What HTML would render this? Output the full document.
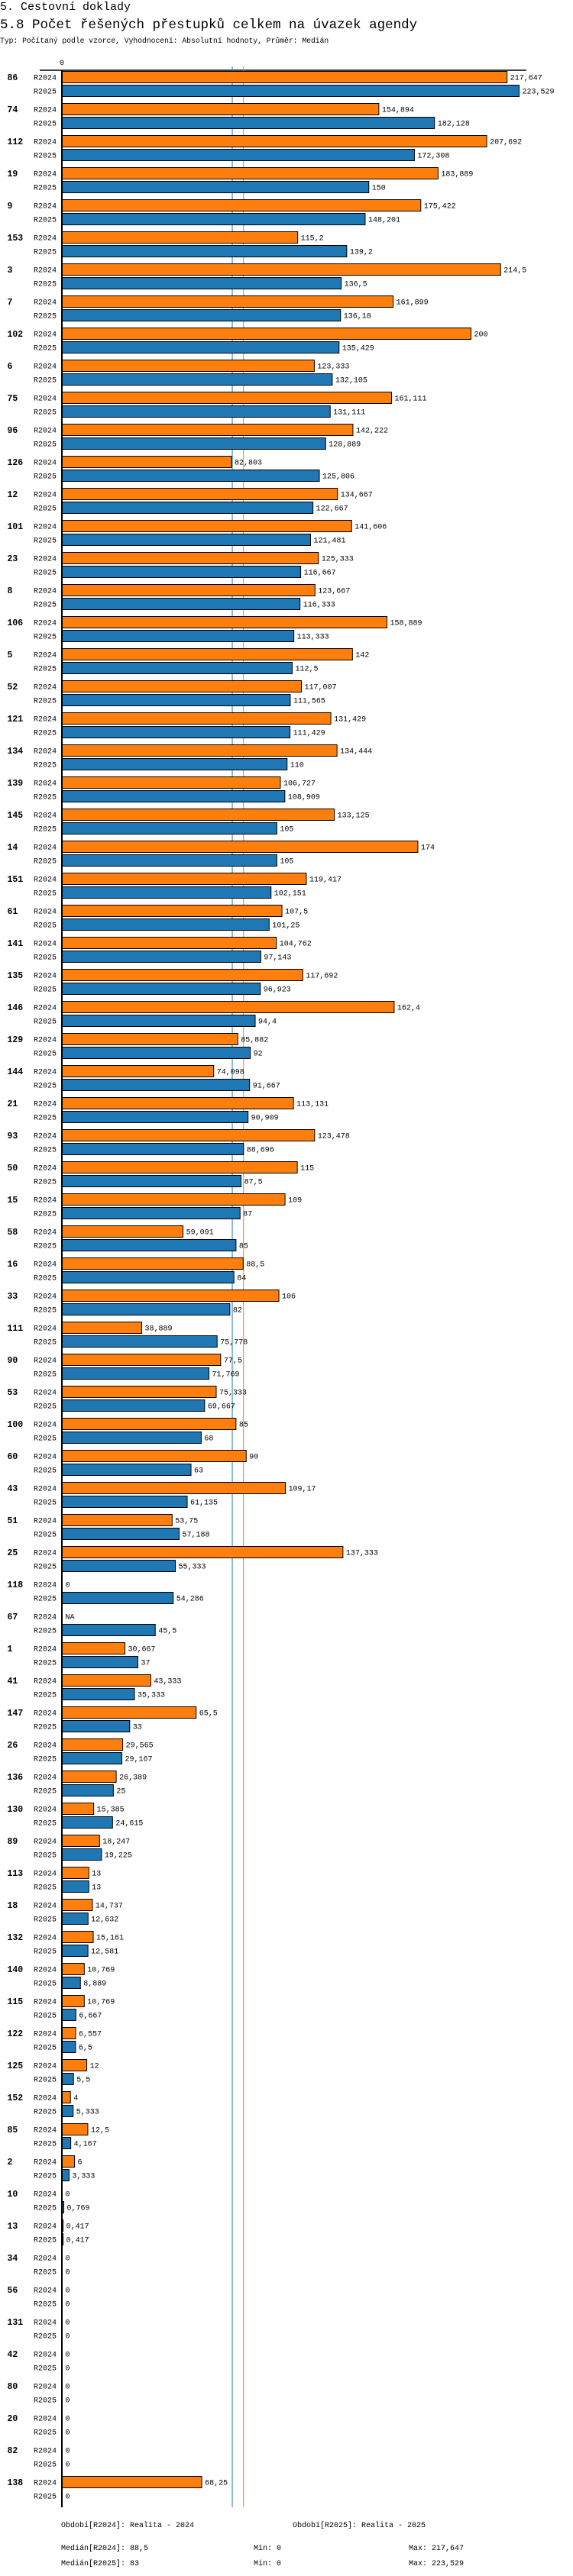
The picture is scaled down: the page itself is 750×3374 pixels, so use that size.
<!DOCTYPE html>
<html><head><meta charset="utf-8"><style>
html,body{margin:0;padding:0;background:#fff;}
svg{display:block;}
text{font-family:"Liberation Mono",monospace;fill:#000;}
</style></head><body>
<svg id="chart" width="750" height="3374" viewBox="0 0 750 3374" xmlns="http://www.w3.org/2000/svg">
<text x="0" y="13" font-size="15">5. Cestovní doklady</text>
<text x="0" y="37" font-size="17.5">5.8 Počet řešených přestupků celkem na úvazek agendy</text>
<text x="0" y="56" font-size="9.7">Typ: Počítaný podle vzorce, Vyhodnocení: Absolutní hodnoty, Průměr: Medián</text>
<text x="81" y="85" font-size="10" text-anchor="middle">0</text>
<line x1="52" y1="92" x2="689" y2="92" stroke="#000" stroke-width="1.5"/>
<g id="marks"></g>
<line x1="81" y1="92" x2="81" y2="3284" stroke="#000" stroke-width="2"/>
<g font-size="10">
<text x="80" y="3310">Období[R2024]: Realita - 2024</text>
<text x="383" y="3310">Období[R2025]: Realita - 2025</text>
<text x="80" y="3340">Medián[R2024]: 88,5</text>
<text x="332" y="3340">Min: 0</text>
<text x="535" y="3340">Max: 217,647</text>
<text x="80" y="3360">Medián[R2025]: 83</text>
<text x="332" y="3360">Min: 0</text>
<text x="535" y="3360">Max: 223,529</text>
</g>
</svg>
<script>
const categories = ["86","74","112","19","9","153","3","7","102","6","75","96","126","12","101","23","8","106","5","52","121","134","139","145","14","151","61","141","135","146","129","144","21","93","50","15","58","16","33","111","90","53","100","60","43","51","25","118","67","1","41","147","26","136","130","89","113","18","132","140","115","122","125","152","85","2","10","13","34","56","131","42","80","20","82","138"];
const values2024 = [217.647,154.894,207.692,183.889,175.422,115.2,214.5,161.899,200,123.333,161.111,142.222,82.803,134.667,141.606,125.333,123.667,158.889,142,117.007,131.429,134.444,106.727,133.125,174,119.417,107.5,104.762,117.692,162.4,85.882,74.098,113.131,123.478,115,109,59.091,88.5,106,38.889,77.5,75.333,85,90,109.17,53.75,137.333,0,null,30.667,43.333,65.5,29.565,26.389,15.385,18.247,13,14.737,15.161,10.769,10.769,6.557,12,4,12.5,6,0,0.417,0,0,0,0,0,0,0,68.25];
const values2025 = [223.529,182.128,172.308,150,148.201,139.2,136.5,136.18,135.429,132.105,131.111,128.889,125.806,122.667,121.481,116.667,116.333,113.333,112.5,111.565,111.429,110,108.909,105,105,102.151,101.25,97.143,96.923,94.4,92,91.667,90.909,88.696,87.5,87,85,84,82,75.778,71.769,69.667,68,63,61.135,57.188,55.333,54.286,45.5,37,35.333,33,29.167,25,24.615,19.225,13,12.632,12.581,8.889,6.667,6.5,5.5,5.333,4.167,3.333,0.769,0.417,0,0,0,0,0,0,0,0];
const seriesNames = ["R2024","R2025"];
const seriesColors = ["#ff7f0e","#1f77b4"];
const medians = [88.5, 83];

const NS = "http://www.w3.org/2000/svg";
const X0 = 82, SCALE = 2.675, TOP = 101, PITCH = 42, SUB = 18, BH = 15;
function xPos(v){ return X0 + v*SCALE; }
function yCenter(i, s){ return TOP + i*PITCH + s*SUB; }
function fmt(v){ return v === null ? "NA" : String(v).replace(".", ","); }
function mk(tag, attrs){ const e = document.createElementNS(NS, tag); for (const k in attrs) e.setAttribute(k, attrs[k]); return e; }
const g = document.getElementById("marks");
const svg = document.getElementById("chart");

// median lines
medians.forEach((m, s) => {
  const ln = mk("line", {x1: xPos(m), x2: xPos(m), y1: 87, y2: 3284, stroke: seriesColors[1 - s === 1 ? 0 : 1], "stroke-width": 1});
  ln.setAttribute("stroke", s === 0 ? seriesColors[0] : seriesColors[1]);
  
  
  g.appendChild(ln);
});

const series = [values2024, values2025];
categories.forEach((cat, i) => {
  const gl = mk("text", {x: 9.5, y: yCenter(i,0) + 4, "font-size": 11.5, "font-weight": "bold"});
  gl.textContent = cat;
  
  
  g.appendChild(gl);
  series.forEach((vals, s) => {
    const cy = yCenter(i, s);
    const sl = mk("text", {x: 74, y: cy + 3.5, "font-size": 10, "text-anchor": "end"});
    sl.textContent = seriesNames[s];
    
    
    g.appendChild(sl);
    const v = vals[i];
    let end = X0;
    if (v !== null && v > 0) {
      const w = xPos(v) - X0;
      const r = mk("rect", {x: X0 - 0.5, y: cy - BH/2, width: w, height: BH, fill: seriesColors[s], stroke: "#000", "stroke-width": 1});
      
      
      g.appendChild(r);
      end = X0 + w;
    }
    const vl = mk("text", {x: end + 3.5, y: cy + 3.5, "font-size": 10});
    vl.textContent = fmt(v);
    
    
    g.appendChild(vl);
  });
});
</script>
</body></html>
